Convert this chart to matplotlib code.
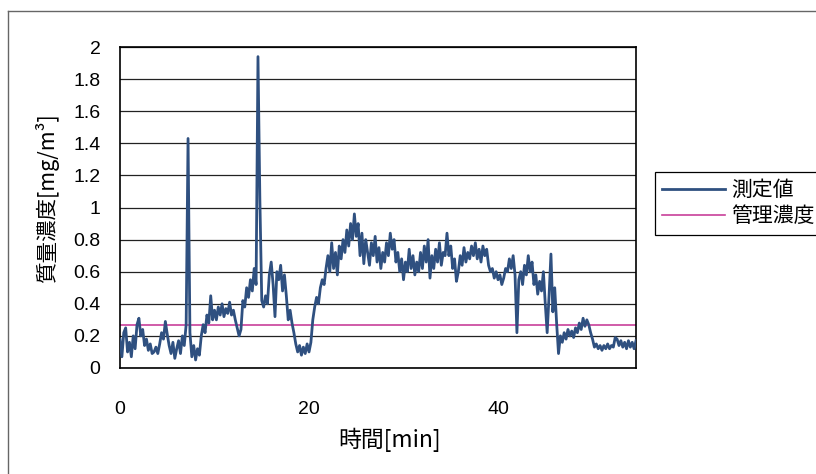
import numpy as np
import matplotlib.pyplot as plt
from matplotlib.lines import Line2D

plt.rcParams['font.family'] = ['Liberation Sans', 'Noto Sans CJK JP', 'DejaVu Sans']

measured = [
    0.18, 0.07, 0.22, 0.25, 0.10, 0.16, 0.07, 0.20, 0.12, 0.27, 0.31, 0.20, 0.24, 0.14, 0.18, 0.11, 0.15, 0.09, 0.10, 0.13, 0.09, 0.15, 0.22, 0.18, 0.29,
    0.21, 0.14, 0.09, 0.16, 0.06, 0.12, 0.17, 0.09, 0.20, 0.14, 0.27, 1.43, 0.22, 0.07, 0.14, 0.05, 0.12, 0.08, 0.20, 0.27, 0.22, 0.33, 0.28, 0.45, 0.30,
    0.36, 0.30, 0.38, 0.33, 0.40, 0.32, 0.37, 0.34, 0.41, 0.33, 0.36, 0.30, 0.25, 0.20, 0.24, 0.42, 0.38, 0.50, 0.44, 0.55, 0.48, 0.62, 0.52, 1.94, 1.05,
    0.42, 0.38, 0.45, 0.40, 0.58, 0.66, 0.52, 0.32, 0.60, 0.55, 0.64, 0.48, 0.58, 0.45, 0.30, 0.36, 0.28, 0.22, 0.15, 0.10, 0.14, 0.08, 0.13, 0.09, 0.15,
    0.10, 0.16, 0.30, 0.38, 0.44, 0.40, 0.50, 0.55, 0.52, 0.62, 0.70, 0.60, 0.78, 0.62, 0.72, 0.58, 0.76, 0.68, 0.80, 0.72, 0.86, 0.76, 0.90, 0.80, 0.96,
    0.82, 0.90, 0.70, 0.84, 0.65, 0.80, 0.72, 0.64, 0.78, 0.70, 0.82, 0.66, 0.75, 0.62, 0.72, 0.66, 0.78, 0.70, 0.84, 0.74, 0.80, 0.66, 0.72, 0.60, 0.68,
    0.55, 0.66, 0.60, 0.74, 0.62, 0.70, 0.58, 0.66, 0.60, 0.72, 0.62, 0.76, 0.66, 0.80, 0.56, 0.70, 0.62, 0.74, 0.66, 0.78, 0.64, 0.72, 0.70, 0.84, 0.70,
    0.76, 0.62, 0.68, 0.54, 0.60, 0.70, 0.64, 0.75, 0.66, 0.72, 0.68, 0.76, 0.70, 0.78, 0.68, 0.74, 0.66, 0.76, 0.70, 0.74, 0.64, 0.60, 0.62, 0.56, 0.60,
    0.55, 0.58, 0.52, 0.56, 0.62, 0.60, 0.68, 0.62, 0.70, 0.58, 0.22, 0.55, 0.60, 0.52, 0.64, 0.58, 0.70, 0.60, 0.66, 0.52, 0.58, 0.46, 0.54, 0.48, 0.60,
    0.40, 0.22, 0.45, 0.71, 0.35, 0.50, 0.28, 0.09, 0.20, 0.16, 0.22, 0.18, 0.24, 0.20, 0.23, 0.19, 0.25, 0.22, 0.28, 0.24, 0.31, 0.26, 0.30, 0.27, 0.22,
    0.18, 0.13, 0.15, 0.12, 0.14, 0.11, 0.14, 0.12, 0.15, 0.12, 0.14, 0.13, 0.19, 0.18, 0.14, 0.17, 0.13, 0.16, 0.12, 0.17, 0.13, 0.16, 0.12, 0.17,
]
time_min = np.round(np.arange(len(measured)) * 0.2, 1)
control_level = 0.27

x_ticks = [0, 20, 40]
y_ticks = [0, 0.2, 0.4, 0.6, 0.8, 1, 1.2, 1.4, 1.6, 1.8, 2]
y_labels = ['0', '0.2', '0.4', '0.6', '0.8', '1', '1.2', '1.4', '1.6', '1.8', '2']

blue = '#2f5080'
pink = '#c8409a'
cjk = ['Noto Sans CJK JP', 'DejaVu Sans']

fig = plt.figure(figsize=(8.16, 4.74), dpi=100)
ax = fig.add_axes([120/816, 1 - 368/474, 516/816, 321/474])

ax.plot(time_min, measured, color=blue, lw=2.0, zorder=3)
ax.axhline(control_level, color=pink, lw=1.2, zorder=2)

ax.set_xlim(0, time_min[-1])
ax.set_ylim(0, 2)
ax.set_xticks(x_ticks)
ax.set_yticks(y_ticks)
ax.set_yticklabels(y_labels)
ax.tick_params(length=0, labelsize=14)
ax.tick_params(axis='x', pad=24)
ax.tick_params(axis='y', pad=14)
ax.yaxis.grid(True, color='#222222', lw=0.9)
for s in ax.spines.values():
    s.set_color('black')
    s.set_linewidth(1.2)

fig.text(390/816, 1 - 440/474, '時間[min]', fontsize=16.5, family=cjk,
         ha='center', va='center')
fig.text(47/816, 1 - 198/474, '質量濃度[mg/m³]', rotation=90, fontsize=15.5,
         family=cjk, ha='center', va='center')

# outer chart frame (scan edge)
fig.add_artist(Line2D([8/816, 8/816], [0, 1 - 11/474], color='#666666', lw=1))
fig.add_artist(Line2D([8/816, 1], [1 - 11/474, 1 - 11/474], color='#666666', lw=1))

handles = [Line2D([], [], color=blue, lw=2.0), Line2D([], [], color=pink, lw=1.2)]
leg = fig.legend(handles, ['測定値', '管理濃度'], loc='upper left',
                 bbox_to_anchor=(655/816, 1 - 172/474), borderaxespad=0,
                 prop={'family': cjk, 'size': 15},
                 handlelength=3.0, handletextpad=0.3, borderpad=0.35,
                 labelspacing=0.2, fancybox=False, framealpha=1)
leg.get_frame().set_edgecolor('black')
leg.get_frame().set_linewidth(0.9)

fig.savefig('out.png', dpi=100)
